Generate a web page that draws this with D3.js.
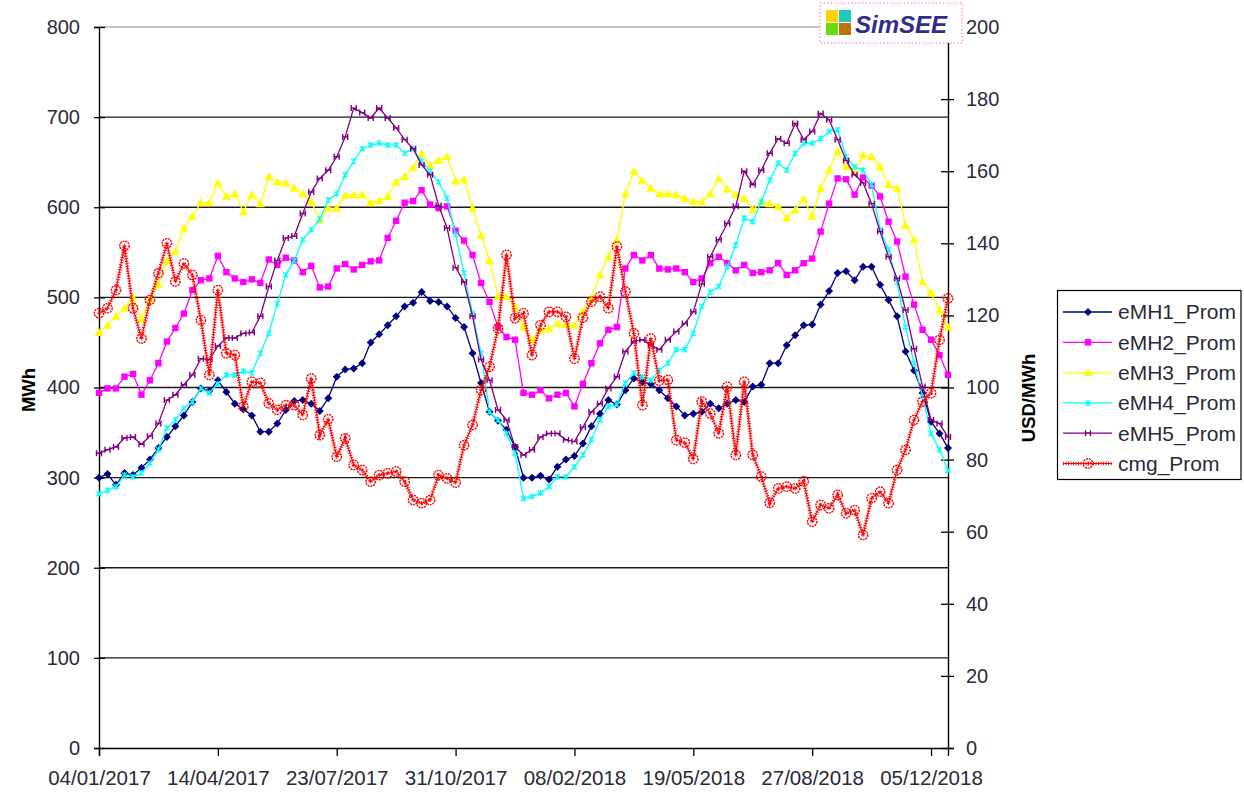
<!DOCTYPE html>
<html><head><meta charset="utf-8">
<script src="https://cdn.jsdelivr.net/npm/d3@7"></script>
<style>
html,body{margin:0;padding:0;background:#fff;}
svg{display:block;font-family:"Liberation Sans",Arial,sans-serif;}
</style></head>
<body><svg id="c" width="1244" height="792"></svg>
<script>
const tickLabels = ["04/01/2017","14/04/2017","23/07/2017","31/10/2017","08/02/2018","19/05/2018","27/08/2018","05/12/2018"];
const tickIndex = [0,14,28,42,56,70,84,98];
const leftTicks = [0,100,200,300,400,500,600,700,800];
const rightTicks = [0,20,40,60,80,100,120,140,160,180,200];
const seriesNames = ["eMH1_Prom","eMH2_Prom","eMH3_Prom","eMH4_Prom","eMH5_Prom","cmg_Prom"];

const eMH1 = [300,304,292,305,303,311,320,333,345,357,
369,384,399,396,408,395,382,376,369,351,
351,360,375,385,386,382,374,388,412,420,
421,427,450,459,469,479,490,494,506,496,
495,490,477,467,438,405,373,363,353,334,
300,300,302,298,312,320,324,338,357,371,
386,381,397,410,406,404,397,388,379,369,
371,373,382,377,382,386,384,401,403,427,
427,447,458,469,470,492,507,527,529,519,
534,534,514,497,479,440,419,394,362,349,333];
const eMH2 = [394,399,399,412,415,392,408,427,451,466,
482,508,519,521,546,528,521,517,520,516,
542,536,544,541,528,535,511,512,532,537,
531,536,540,541,566,585,605,607,619,603,
599,601,574,563,547,516,495,467,456,453,
394,392,397,388,392,394,379,404,427,449,
464,467,532,547,541,547,532,531,532,528,
517,521,538,545,538,530,536,527,528,530,
538,525,530,538,543,573,604,632,631,614,
633,624,612,584,562,523,492,464,453,436,414];
const eMH3 = [461,469,479,488,500,476,498,514,540,551,
577,590,605,605,627,612,615,595,614,604,
634,628,627,621,615,606,586,599,599,613,
614,614,605,607,612,628,634,644,659,647,
652,656,629,631,599,569,541,501,501,490,
467,453,464,465,471,470,469,485,499,525,
545,564,615,640,630,621,615,615,614,610,
606,606,615,632,620,614,610,597,606,604,
601,588,597,609,590,621,641,662,645,640,
658,656,645,625,621,580,564,517,505,486,467];
const eMH4 = [282,286,290,303,301,305,316,331,355,364,
377,384,399,394,404,414,414,418,416,438,
460,493,525,541,564,575,587,608,615,636,
651,665,669,671,669,669,660,665,651,640,
628,610,570,527,482,438,373,364,349,327,
277,279,283,290,301,301,312,325,342,364,
379,381,405,416,412,408,419,427,442,442,
460,490,506,512,534,558,588,584,606,630,
649,641,660,671,671,676,684,686,656,645,
641,625,575,553,517,467,427,390,349,331,308];
const eMH5 = [327,331,334,344,345,337,346,360,386,392,
403,414,432,431,446,455,455,460,461,479,
512,541,566,568,593,617,632,641,656,678,
710,705,699,710,699,688,675,665,647,636,
602,577,533,517,479,431,408,375,364,334,
325,331,345,349,349,342,340,356,373,382,
399,412,440,451,453,447,442,453,462,471,
484,515,545,564,582,601,640,625,641,660,
676,671,693,675,684,704,697,675,652,636,
627,604,573,545,521,486,443,401,364,360,345];
const cmg = [120.6,122.0,127.0,139.3,122.0,113.6,124.3,131.7,140.0,129.4,
134.4,131.2,118.7,103.5,127.0,109.5,109.0,94.7,101.6,101.3,
95.6,93.8,95.1,95.1,92.4,102.5,86.8,91.2,80.8,85.9,
78.5,77.1,73.9,75.7,76.2,76.7,73.9,68.8,67.9,68.8,
75.7,74.8,73.6,84.0,89.6,99.3,105.8,116.4,136.8,119.2,
120.6,109.0,117.3,121.0,121.0,119.6,108.0,119.4,123.8,125.2,
122.0,139.1,126.6,115.0,95.1,113.6,101.9,102.1,85.4,84.7,
80.2,96.1,92.8,87.3,100.2,81.3,101.6,81.3,75.3,68.0,
72.0,72.5,72.0,74.0,62.8,67.4,66.5,70.2,65.1,66.0,
59.1,69.3,71.1,67.9,77.1,82.7,91.0,96.1,98.4,113.2,124.7];

const svg = d3.select("#c");
const L = 99, R = 948, T = 27, B = 748;
const x = d3.scaleLinear().domain([0, eMH1.length - 1]).range([L, R]);
const yL = d3.scaleLinear().domain([0, 800]).range([B, T]);
const yR = d3.scaleLinear().domain([0, 200]).range([B, T]);
const txt = "#2a2a3a";

// gridlines
svg.append("g").selectAll("line").data(leftTicks.filter(v => v > 0 && v < 800)).join("line")
  .attr("x1", L).attr("x2", R).attr("y1", d => yL(d)).attr("y2", d => yL(d))
  .attr("stroke", "#1a1a1a").attr("stroke-width", 1.4);
svg.append("line").attr("x1", L).attr("x2", R).attr("y1", T).attr("y2", T)
  .attr("stroke", "#8a8a8a").attr("stroke-width", 1.2);

// axes
const axL = svg.append("g").attr("transform", `translate(${L},0)`)
  .call(d3.axisLeft(yL).tickValues(leftTicks).tickSize(5).tickPadding(14));
const axR = svg.append("g").attr("transform", `translate(${R},0)`)
  .call(d3.axisRight(yR).tickValues(rightTicks).tickSize(6).tickPadding(12));
const axB = svg.append("g").attr("transform", `translate(0,${B})`)
  .call(d3.axisBottom(x).tickValues(tickIndex).tickFormat((d, i) => tickLabels[i]).tickSize(8).tickPadding(14));
[axL, axR, axB].forEach(a => {
  a.select(".domain").attr("stroke", "#000").attr("stroke-width", 1.4);
  a.selectAll(".tick line").attr("stroke", "#000").attr("stroke-width", 1.3);
  a.selectAll(".tick text").attr("fill", txt).attr("font-size", 20).attr("font-family", '"Liberation Sans",Arial,sans-serif');
});
axB.selectAll(".tick text").attr("font-size", 20.5);
// cross ticks
axL.selectAll(".tick").append("line").attr("x1", 0).attr("x2", 6).attr("stroke", "#000").attr("stroke-width", 1.3);
axR.selectAll(".tick").append("line").attr("x1", 0).attr("x2", -7).attr("stroke", "#000").attr("stroke-width", 1.3);
axB.selectAll(".tick text").attr("dy", "0.71em");

// axis titles
svg.append("text").attr("transform", "translate(35,390) rotate(-90)").attr("text-anchor", "middle")
  .attr("font-size", 18.5).attr("font-weight", "bold").attr("fill", "#000").text("MWh");
svg.append("text").attr("transform", "translate(1035,398) rotate(-90)").attr("text-anchor", "middle")
  .attr("font-size", 18.5).attr("font-weight", "bold").attr("fill", "#000").text("USD/MWh");

// markers
function marker(g, type, color) {
  if (type === "diamond") {
    g.append("path").attr("d", "M0,-4L4,0L0,4L-4,0Z").attr("fill", color);
  } else if (type === "square") {
    g.append("rect").attr("x", -3.2).attr("y", -3.2).attr("width", 6.4).attr("height", 6.4).attr("fill", color);
  } else if (type === "triangle") {
    g.append("path").attr("d", "M0,-4.5L4.5,3.5L-4.5,3.5Z").attr("fill", color);
  } else if (type === "star") {
    g.append("path").attr("d", "M-2.6,-2.6L2.6,2.6M-2.6,2.6L2.6,-2.6M0,-3L0,3").attr("stroke", color).attr("stroke-width", 1.2);
  } else if (type === "bar") {
    g.append("path").attr("d", "M-3,0L3,0M-2.5,-3L-2.5,3M2.5,-3L2.5,3").attr("stroke", color).attr("stroke-width", 1.4);
  } else if (type === "circle") {
    g.append("circle").attr("r", 4.7).attr("fill", "none").attr("stroke", color).attr("stroke-width", 1.4)
      .attr("stroke-dasharray", "2,0.8");
    g.append("path").attr("d", "M-1.8,0L1.8,0M0,-1.8L0,1.8").attr("stroke", color).attr("stroke-width", 0.9);
  }
}

const series = [
  {name: seriesNames[0], data: eMH1, color: "#000080", type: "diamond", y: yL},
  {name: seriesNames[1], data: eMH2, color: "#FF00FF", type: "square", y: yL},
  {name: seriesNames[2], data: eMH3, color: "#FFFF00", type: "triangle", y: yL},
  {name: seriesNames[3], data: eMH4, color: "#00FFFF", type: "star", y: yL},
  {name: seriesNames[4], data: eMH5, color: "#800080", type: "bar", y: yL},
  {name: seriesNames[5], data: cmg, color: "#FF0000", type: "circle", y: yR}
];

const plot = svg.append("g");
series.forEach(s => {
  const line = d3.line().x((d, i) => x(i)).y(d => s.y(d));
  const g = plot.append("g");
  if (s.type === "circle") {
    g.append("path").datum(s.data).attr("d", line).attr("fill", "none").attr("stroke", s.color).attr("stroke-width", 1);
    g.append("path").datum(s.data).attr("d", line).attr("fill", "none").attr("stroke", s.color)
      .attr("stroke-width", 3.6).attr("stroke-dasharray", "1,1.5");
  } else {
    g.append("path").datum(s.data).attr("d", line).attr("fill", "none").attr("stroke", s.color).attr("stroke-width", 1.3);
  }
  g.selectAll("g.m").data(s.data).join("g").attr("class", "m")
    .attr("transform", (d, i) => `translate(${x(i)},${s.y(d)})`)
    .each(function() { marker(d3.select(this), s.type, s.color); });
});

// legend
const lg = svg.append("g");
lg.append("rect").attr("x", 1057.5).attr("y", 290.5).attr("width", 183.5).attr("height", 189)
  .attr("fill", "#fff").attr("stroke", "#000").attr("stroke-width", 1.2);
series.forEach((s, k) => {
  const yy = 312 + k * 30.3;
  const row = lg.append("g").attr("transform", `translate(0,${yy})`);
  if (s.type === "circle") {
    row.append("line").attr("x1", 1063).attr("x2", 1112).attr("stroke", s.color).attr("stroke-width", 1);
    row.append("line").attr("x1", 1063).attr("x2", 1112).attr("stroke", s.color).attr("stroke-width", 3.6).attr("stroke-dasharray", "1,1.5");
  } else {
    row.append("line").attr("x1", 1063).attr("x2", 1112).attr("stroke", s.color).attr("stroke-width", 1.3);
  }
  const m = row.append("g").attr("transform", "translate(1088,0)");
  marker(m, s.type, s.color);
  row.append("text").attr("x", 1118).attr("y", 0).attr("dy", "0.35em").attr("font-size", 21)
    .attr("fill", txt).text(s.name);
});

// SimSEE logo
const logo = svg.append("g");
logo.append("rect").attr("x", 820).attr("y", 3).attr("width", 142).attr("height", 40).attr("fill", "#fff")
  .attr("stroke", "#ff66dd").attr("stroke-width", 1).attr("stroke-dasharray", "1.5,2");
logo.append("rect").attr("x", 826).attr("y", 10).attr("width", 12).attr("height", 12).attr("fill", "#FFD400");
logo.append("rect").attr("x", 839).attr("y", 10).attr("width", 12).attr("height", 12).attr("fill", "#1FC8B8");
logo.append("rect").attr("x", 826).attr("y", 23).attr("width", 12).attr("height", 12).attr("fill", "#66DD11");
logo.append("rect").attr("x", 839).attr("y", 23).attr("width", 12).attr("height", 12).attr("fill", "#B8760A");
logo.append("text").attr("x", 855).attr("y", 33).attr("font-size", 24).attr("font-weight", "bold")
  .attr("font-style", "italic").attr("fill", "#2e2e8a").text("SimSEE");
</script></body></html>
